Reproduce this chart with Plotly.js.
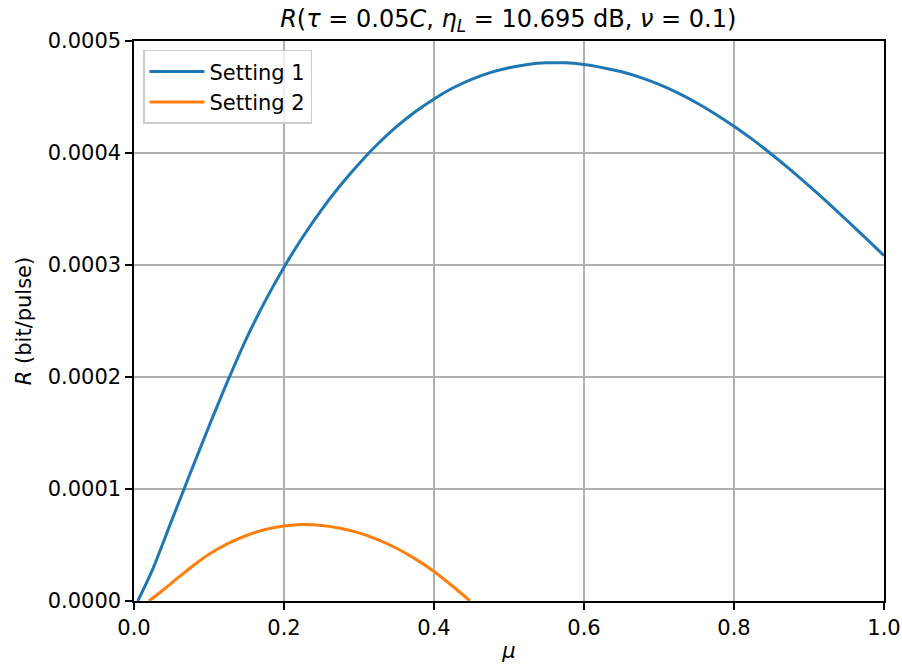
<!DOCTYPE html>
<html>
<head>
<meta charset="utf-8">
<script src="https://cdn.plot.ly/plotly-3.0.1.min.js"></script>
<style>html,body{margin:0;padding:0;background:#fff;}#chart{width:902px;height:665px;}</style>
</head>
<body>
<div id="chart"></div>
<script>
// Setting 1
const muSetting1 = [0.005, 0.025, 0.05, 0.075, 0.1, 0.125, 0.15, 0.175, 0.2, 0.225, 0.25, 0.275, 0.3, 0.325, 0.35, 0.375, 0.4, 0.425, 0.45, 0.475, 0.5, 0.525, 0.55, 0.575, 0.6, 0.625, 0.65, 0.675, 0.7, 0.725, 0.75, 0.775, 0.8, 0.825, 0.85, 0.875, 0.9, 0.925, 0.95, 0.975, 1.0];
const rSetting1 = [0, 0.0000285, 0.0000715, 0.000114, 0.000156, 0.0001965, 0.0002345, 0.000268, 0.000298, 0.000325, 0.0003493, 0.000371, 0.0003905, 0.000408, 0.0004235, 0.0004368, 0.0004483, 0.000458, 0.0004658, 0.0004718, 0.0004762, 0.0004791, 0.0004805, 0.0004805, 0.000479, 0.0004762, 0.0004725, 0.0004675, 0.0004612, 0.0004537, 0.0004449, 0.0004349, 0.0004239, 0.0004119, 0.0003989, 0.0003852, 0.0003707, 0.0003557, 0.0003402, 0.0003244, 0.0003084];
// Setting 2
const muSetting2 = [0.02, 0.04, 0.06, 0.08, 0.1, 0.125, 0.15, 0.175, 0.2, 0.225, 0.25, 0.275, 0.3, 0.325, 0.35, 0.375, 0.4, 0.425, 0.448];
const rSetting2 = [0, 0.0000105, 0.0000215, 0.0000322, 0.0000418, 0.0000512, 0.0000585, 0.0000638, 0.000067, 0.0000682, 0.0000675, 0.000065, 0.0000608, 0.0000548, 0.0000471, 0.0000376, 0.0000264, 0.0000132, 0];

const seriesNames = ['Setting 1', 'Setting 2'];
const xTicks = [0, 0.2, 0.4, 0.6, 0.8, 1.0];
const yTicks = [0, 0.0001, 0.0002, 0.0003, 0.0004, 0.0005];

const FONT = 'DejaVu Sans, sans-serif';
const FS = 21;

const traces = [
  {x: muSetting1, y: rSetting1, name: seriesNames[0], mode: 'lines',
   line: {color: '#1f77b4', width: 3, shape: 'spline', smoothing: 0.8}},
  {x: muSetting2, y: rSetting2, name: seriesNames[1], mode: 'lines',
   line: {color: '#ff7f0e', width: 3, shape: 'spline', smoothing: 0.8}}
];

const axisCommon = {
  showline: true, mirror: true, linecolor: '#000', linewidth: 1.6,
  ticks: 'outside', ticklen: 7, tickwidth: 1.6, tickcolor: '#000',
  showgrid: true, gridcolor: '#b0b0b0', gridwidth: 1.6,
  zeroline: false, tickfont: {family: FONT, size: FS, color: '#000'}
};

const layout = {
  width: 902, height: 665,
  margin: {l: 134, r: 18, t: 41, b: 64, pad: 0},
  paper_bgcolor: '#fff', plot_bgcolor: '#fff',
  font: {family: FONT, size: FS, color: '#000'},
  title: {
    text: '<i>R</i>(<i>τ</i> = 0.05<i>C</i>, <i>η</i><sub><i>L</i></sub> = 10.695 dB, <i>ν</i> = 0.1)',
    font: {family: FONT, size: 24, color: '#000'},
    x: 0.5635, xanchor: 'center', y: 0.985, yanchor: 'top'
  },
  xaxis: Object.assign({}, axisCommon, {
    range: [0, 1], tickvals: xTicks, tickformat: '.1f',
    title: {text: '<i>μ</i>', font: {family: FONT, size: FS, color: '#000'}, standoff: 4}
  }),
  yaxis: Object.assign({}, axisCommon, {
    range: [0, 0.0005], tickvals: yTicks, tickformat: '.4f',
    title: {text: '<i>R</i> (bit/pulse)', font: {family: FONT, size: FS, color: '#000'}, standoff: 10}
  }),
  showlegend: true,
  legend: {
    x: 0.012, y: 0.984, xanchor: 'left', yanchor: 'top',
    bgcolor: 'rgba(255,255,255,0.8)', bordercolor: '#cccccc', borderwidth: 1.5,
    font: {family: FONT, size: FS, color: '#000'},
    itemwidth: 55, tracegroupgap: 0
  }
};

Plotly.newPlot('chart', traces, layout, {staticPlot: true, displayModeBar: false});
</script>
</body>
</html>
